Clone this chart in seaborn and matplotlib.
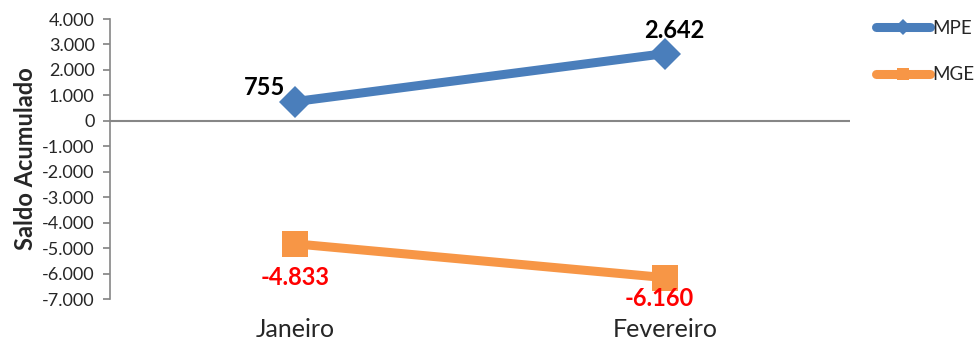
import matplotlib
matplotlib.use("Agg")
import matplotlib.pyplot as plt
import matplotlib.ticker as mticker
import seaborn as sns
import pandas as pd

months = ["Janeiro", "Fevereiro"]
mpe = [755, 2642]
mge = [-4833, -6160]
series_names = ["MPE", "MGE"]
y_ticks = list(range(-7000, 4001, 1000))

df = pd.DataFrame({
    "Mês": months * 2,
    "Saldo": mpe + mge,
    "Porte": [series_names[0]] * 2 + [series_names[1]] * 2,
})
df["pos"] = [0, 1, 0, 1]

sns.set_theme(style="white")
plt.rcParams["font.family"] = ["Lato", "DejaVu Sans"]

fig = plt.figure(figsize=(9.76, 3.43), dpi=100)
ax = fig.add_axes([110 / 976, 44 / 343, 740 / 976, 280 / 343])

palette = {"MPE": "#4A7EBB", "MGE": "#F79646"}
markers = {"MPE": "D", "MGE": "s"}
sizes = {"MPE": 16, "MGE": 19}

for name in series_names:
    sub = df[df["Porte"] == name]
    sns.lineplot(data=sub, x="pos", y="Saldo", ax=ax, color=palette[name],
                 linewidth=6.5, marker=markers[name], markersize=sizes[name],
                 markeredgewidth=0, label=name, solid_capstyle="round", zorder=3)

ax.set_xlim(-0.5, 1.5)
ax.set_ylim(-7000, 4000)
ax.set_yticks(y_ticks)
ax.yaxis.set_major_formatter(mticker.FuncFormatter(
    lambda v, p: f"{int(v):,}".replace(",", ".")))
ax.set_xticks([0, 1])
ax.set_xticklabels(months, fontsize=18)
ax.set_xlabel("")
ax.set_ylabel("Saldo Acumulado", fontsize=17, fontweight="bold", labelpad=4)

for s in ["top", "right", "bottom"]:
    ax.spines[s].set_visible(False)
ax.spines["left"].set_color("#868686")
ax.spines["left"].set_linewidth(1.2)
ax.axhline(0, color="#868686", linewidth=1.5, zorder=1)
ax.tick_params(axis="y", which="major", left=True, length=5, color="#868686",
               labelsize=13, pad=6)
ax.tick_params(axis="x", length=0, pad=14)

# value labels
ax.annotate(f"{mpe[0]}", (0, mpe[0]), xytext=(-22, 2), textcoords="offset points",
            ha="center", va="bottom", fontsize=17, fontweight="bold", color="black")
ax.annotate(f"{mpe[1]:,}".replace(",", "."), (1, mpe[1]), xytext=(7, 8),
            textcoords="offset points", ha="center", va="bottom",
            fontsize=17, fontweight="bold", color="black")
ax.annotate(f"{mge[0]:,}".replace(",", "."), (0, mge[0]), xytext=(0, -16),
            textcoords="offset points", ha="center", va="top",
            fontsize=17, fontweight="bold", color="#FF0000")
ax.annotate(f"{mge[1]:,}".replace(",", "."), (1, mge[1]), xytext=(-4, -7),
            textcoords="offset points", ha="center", va="top",
            fontsize=17, fontweight="bold", color="#FF0000")

leg = ax.legend(loc="upper left", bbox_to_anchor=(1.025, 1.025), frameon=False,
                fontsize=13.5, handlelength=2.9, labelspacing=1.6,
                handletextpad=0.1, borderaxespad=0)
for h in leg.get_lines():
    h.set_markersize(8)

fig.savefig("out.png", dpi=100)
